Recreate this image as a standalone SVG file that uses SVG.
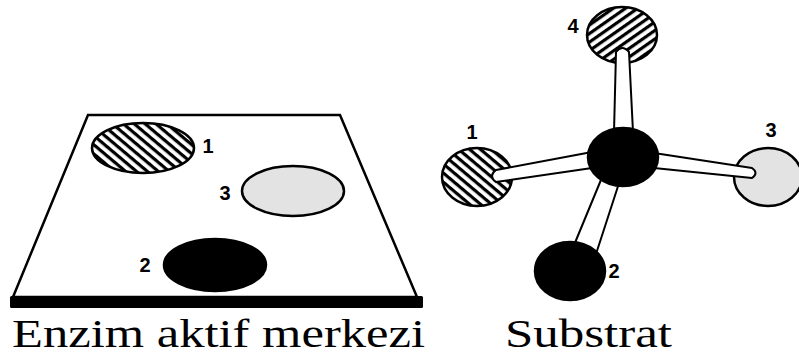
<svg xmlns="http://www.w3.org/2000/svg" width="799" height="356" viewBox="0 0 799 356">
  <defs>
    <!-- diagonal hatching, "\" direction -->
    <pattern id="hatchBack" width="7" height="7" patternUnits="userSpaceOnUse" patternTransform="rotate(40)">
      <rect width="7" height="7" fill="#fff"/>
      <rect width="7" height="3.2" fill="#000"/>
    </pattern>
    <!-- diagonal hatching, "/" direction -->
    <pattern id="hatchFwd" width="7" height="7" patternUnits="userSpaceOnUse" patternTransform="rotate(-35)">
      <rect width="7" height="7" fill="#fff"/>
      <rect width="7" height="3.2" fill="#000"/>
    </pattern>
    <style>
      .outline { stroke: #000; stroke-width: 2.5; }
      .bond { fill: #fff; stroke: #000; stroke-width: 2; stroke-linejoin: round; }
      .num { font-family: "Liberation Sans", Arial, sans-serif; font-weight: bold; font-size: 20px; fill: #000; text-anchor: middle; }
      .hatched-a { fill: url(#hatchBack); }
      .hatched-b { fill: url(#hatchFwd); }
      .light { fill: #e3e3e3; }
      .dark { fill: #000; }
    </style>
  </defs>

  <!-- Enzyme active site: tilted plate -->
  <g id="active-site">
    <polygon points="88,115 340,115 417,297 13,297" fill="#fff" class="outline"/>
    <rect x="10" y="296" width="413" height="12" rx="1.5" fill="#000"/>
  </g>

  <g id="site-1">
    <ellipse cx="143" cy="148" rx="51" ry="25" class="outline hatched-a"/>
    <text x="208" y="153" class="num">1</text>
  </g>

  <g id="site-3">
    <ellipse cx="293" cy="191" rx="51" ry="25" class="outline light"/>
    <text x="225" y="200" class="num">3</text>
  </g>

  <g id="site-2">
    <ellipse cx="215" cy="265" rx="51" ry="26" class="outline dark"/>
    <text x="145" y="272" class="num">2</text>
  </g>

  <!-- Substrate molecule: outer groups -->
  <g id="group-4">
    <ellipse cx="622" cy="35" rx="35" ry="28" class="outline hatched-b"/>
    <text x="573" y="33" class="num">4</text>
  </g>

  <g id="group-1">
    <ellipse cx="477" cy="177" rx="35" ry="29" class="outline hatched-a"/>
    <text x="472" y="139" class="num">1</text>
  </g>

  <g id="group-3">
    <ellipse cx="768" cy="177" rx="34" ry="29" class="outline light"/>
    <text x="771" y="137" class="num">3</text>
  </g>

  <!-- bonds to the central atom -->
  <g id="bonds">
    <path class="bond" d="M614,132 L616,52 Q622,44 629,52 L633,132 Z"/>
    <path class="bond" d="M592,152 L496,170 Q488,176 496,182 L592,168 Z"/>
    <path class="bond" d="M654,153 L752,168 Q759,173 752,178 L654,168 Z"/>
    <path class="bond" d="M603,175 L572,250 L596,254 L621,177 Z"/>
  </g>

  <g id="group-2">
    <ellipse cx="570" cy="271" rx="35" ry="29" class="outline dark"/>
    <text x="614" y="278" class="num">2</text>
  </g>

  <g id="center-atom">
    <ellipse cx="623" cy="157" rx="35" ry="29" class="outline dark"/>
  </g>

  <!-- captions -->
  <text x="12" y="347" font-family="serif" font-size="40" fill="#000" textLength="413" lengthAdjust="spacingAndGlyphs">Enzim aktif merkezi</text>
  <text x="505" y="347" font-family="serif" font-size="40" fill="#000" textLength="167" lengthAdjust="spacingAndGlyphs">Substrat</text>
</svg>
